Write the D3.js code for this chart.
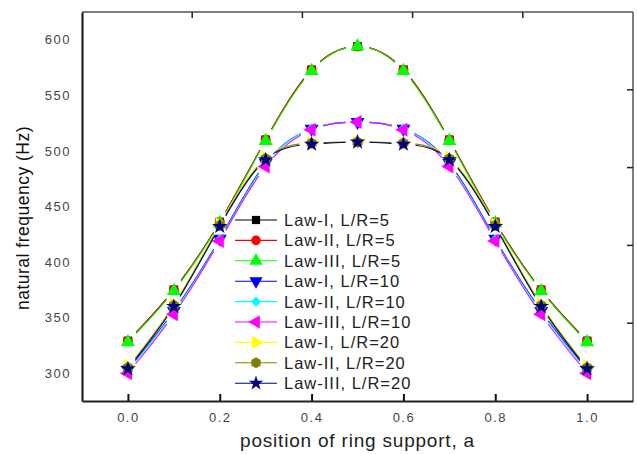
<!DOCTYPE html>
<html>
<head>
<meta charset="utf-8">
<script src="https://cdn.jsdelivr.net/npm/d3@7"></script>
<style>
  body { margin: 0; background: #fff; }
  text { font-family: "Liberation Sans", Arial, sans-serif; }
</style>
</head>
<body>
<svg id="chart" width="637" height="454"></svg>
<script>
// data
var positions = [0.0, 0.1, 0.2, 0.3, 0.4, 0.5, 0.6, 0.7, 0.8, 0.9, 1.0];
var lawI_5   = [329, 375, 436, 510, 573, 594, 573, 510, 436, 375, 329];
var lawII_5  = [329, 375, 436, 510, 573, 594, 573, 510, 436, 375, 329];
var lawIII_5 = [328, 374, 435, 509, 572, 594, 572, 509, 435, 374, 328];
var lawI_10   = [303, 356, 421, 489, 520, 526, 520, 489, 421, 356, 303];
var lawII_10  = [302, 355, 420, 488, 520, 526, 520, 488, 420, 355, 302];
var lawIII_10 = [300, 353, 419, 486, 519, 526, 519, 486, 419, 353, 300];
var lawI_20   = [306, 362, 434, 494, 507, 508, 507, 494, 434, 362, 306];
var lawII_20  = [305, 361, 433, 493, 507, 508, 507, 493, 433, 361, 305];
var lawIII_20 = [304, 360, 432, 492, 506, 508, 506, 492, 432, 360, 304];
var seriesNames = ["Law-I, L/R=5", "Law-II, L/R=5", "Law-III, L/R=5",
                   "Law-I, L/R=10", "Law-II, L/R=10", "Law-III, L/R=10",
                   "Law-I, L/R=20", "Law-II, L/R=20", "Law-III, L/R=20"];
var xTicks = [0.0, 0.2, 0.4, 0.6, 0.8, 1.0];
var yTicks = [300, 350, 400, 450, 500, 550, 600];

var allValues = [lawI_5, lawII_5, lawIII_5, lawI_10, lawII_10, lawIII_10, lawI_20, lawII_20, lawIII_20];
var colors = ["#000000", "#ff0000", "#00ff00", "#0000ff", "#00ffff", "#ff00ff", "#ffff00", "#808000", "#000080"];

var svg = d3.select("#chart");
var pLeft = 82, pRight = 633, pTop = 12, pBottom = 401;

var x = d3.scaleLinear().domain([-0.1, 1.1]).range([pLeft, pRight]);
var y = d3.scaleLinear().domain([275, 625]).range([pBottom, pTop]);
// the top / right axes in the original have 5 divisions, not matching the data axes
var xTop = d3.scaleLinear().domain([0, 5]).range([pLeft, pRight]);
var yRight = d3.scaleLinear().domain([0, 5]).range([pBottom, pTop]);

// marker shapes
var hexagon = {
  draw: function (ctx, size) {
    var r = Math.sqrt(size / (1.5 * Math.sqrt(3)));
    for (var i = 0; i < 6; i++) {
      var a = Math.PI / 6 + i * Math.PI / 3;
      if (i == 0) ctx.moveTo(r * Math.cos(a), r * Math.sin(a));
      else ctx.lineTo(r * Math.cos(a), r * Math.sin(a));
    }
    ctx.closePath();
  }
};
var shapes = [
  { type: d3.symbolSquare, size: 75, rot: 0 },
  { type: d3.symbolCircle, size: 80, rot: 0 },
  { type: d3.symbolTriangle, size: 85, rot: 0 },
  { type: d3.symbolTriangle, size: 85, rot: 180 },
  { type: d3.symbolSquare, size: 60, rot: 45 },
  { type: d3.symbolTriangle, size: 85, rot: -90 },
  { type: d3.symbolTriangle, size: 85, rot: 90 },
  { type: hexagon, size: 85, rot: 0 },
  { type: d3.symbolStar, size: 75, rot: 0 }
];

// frame
svg.append("line").attr("x1", pLeft).attr("x2", pRight).attr("y1", pTop).attr("y2", pTop)
  .attr("stroke", "#555").attr("stroke-width", 1.5);
svg.append("line").attr("x1", pRight).attr("x2", pRight).attr("y1", pTop).attr("y2", pBottom)
  .attr("stroke", "#555").attr("stroke-width", 1.5);

// top and right ticks (inward)
svg.append("g").selectAll("line").data([1, 2, 3, 4]).enter().append("line")
  .attr("x1", function (d) { return xTop(d) }).attr("x2", function (d) { return xTop(d) })
  .attr("y1", pTop).attr("y2", pTop + 6).attr("stroke", "#222").attr("stroke-width", 1.5);
svg.append("g").selectAll("line").data([1, 2, 3, 4]).enter().append("line")
  .attr("y1", function (d) { return yRight(d) }).attr("y2", function (d) { return yRight(d) })
  .attr("x1", pRight).attr("x2", pRight - 6).attr("stroke", "#222").attr("stroke-width", 1.5);

// bottom axis
var xAxis = svg.append("g").attr("transform", "translate(0," + pBottom + ")")
  .call(d3.axisBottom(x).tickValues(xTicks).tickSizeInner(-7).tickSizeOuter(0)
    .tickPadding(12).tickFormat(d3.format(".1f")));
xAxis.select(".domain").attr("stroke", "#222").attr("stroke-width", 2.2);
xAxis.selectAll(".tick line").attr("stroke", "#111").attr("stroke-width", 2);
xAxis.selectAll("text").style("font-size", "13px").style("letter-spacing", "1.5px").attr("fill", "#444");

// left axis
var yAxis = svg.append("g").attr("transform", "translate(" + pLeft + ",0)")
  .call(d3.axisLeft(y).tickValues(yTicks).tickSize(0).tickPadding(11));
yAxis.select(".domain").attr("stroke", "#222").attr("stroke-width", 2.2);
yAxis.selectAll("text").style("font-size", "13px").style("letter-spacing", "1.5px").attr("fill", "#444");

// axis titles
svg.append("text").attr("x", (pLeft + pRight) / 2).attr("y", 447)
  .attr("text-anchor", "middle").style("font-size", "19px").style("letter-spacing", "0.8px")
  .attr("fill", "#222")
  .text("position of ring support, a");
svg.append("text").attr("transform", "translate(29,218) rotate(-90)")
  .attr("text-anchor", "middle").style("font-size", "17.5px").style("letter-spacing", "0.5px")
  .attr("fill", "#111")
  .text("natural frequency (Hz)");

var line = d3.line()
  .x(function (d) { return x(d[0]) })
  .y(function (d) { return y(d[1]) })
  .curve(d3.curveNatural);

var gap = 12;

// find path length at a given x (x is monotone along the curve)
function lengthAtX(node, px) {
  var lo = 0, hi = node.getTotalLength();
  for (var k = 0; k < 30; k++) {
    var mid = (lo + hi) / 2;
    if (node.getPointAtLength(mid).x < px) lo = mid; else hi = mid;
  }
  return (lo + hi) / 2;
}

allValues.forEach(function (vals, i) {
  var pts = positions.map(function (p, j) { return [p, vals[j]] });
  var path = svg.append("path")
    .attr("d", line(pts))
    .attr("fill", "none")
    .attr("stroke", colors[i])
    .attr("stroke-width", 1.1);

  // Origin-style gaps around the markers
  var node = path.node();
  var total = node.getTotalLength();
  var lens = pts.map(function (p) { return lengthAtX(node, x(p[0])) });
  var dash = [0, lens[0] + gap];
  for (var j = 1; j < lens.length; j++) {
    dash.push(Math.max(0, lens[j] - lens[j - 1] - 2 * gap));
    dash.push(2 * gap);
  }
  dash.push(total);
  path.attr("stroke-dasharray", dash.join(","));

  svg.append("g").selectAll("path")
    .data(pts)
    .enter()
    .append("path")
    .attr("d", d3.symbol().type(shapes[i].type).size(shapes[i].size))
    .attr("transform", function (d) {
      return "translate(" + x(d[0]) + "," + y(d[1]) + ") rotate(" + shapes[i].rot + ")";
    })
    .attr("fill", colors[i]);
});

// legend
var legend = svg.append("g").attr("transform", "translate(235,220)");
seriesNames.forEach(function (name, i) {
  var row = legend.append("g").attr("transform", "translate(0," + (i * 20.4) + ")");
  row.append("line").attr("x1", 0).attr("x2", 42).attr("y1", 0).attr("y2", 0)
    .attr("stroke", colors[i]).attr("stroke-width", 1.1);
  row.append("path")
    .attr("d", d3.symbol().type(shapes[i].type).size(shapes[i].size * 0.9))
    .attr("transform", "translate(21,0) rotate(" + shapes[i].rot + ")")
    .attr("fill", colors[i]);
  row.append("text").attr("x", 49).attr("y", 6)
    .style("font-size", "16.5px").style("letter-spacing", "1px").attr("fill", "#222")
    .text(name);
});
</script>
</body>
</html>
